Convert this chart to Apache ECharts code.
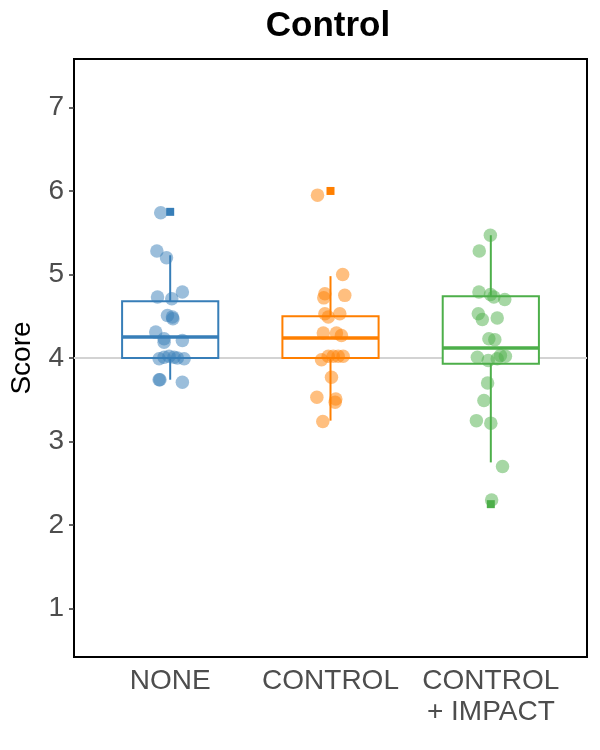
<!DOCTYPE html>
<html>
<head>
<meta charset="utf-8">
<script src="https://cdn.jsdelivr.net/npm/echarts@6/dist/echarts.min.js"></script>
<style>
html,body{margin:0;padding:0;background:#fff;}
#chart{width:600px;height:750px;}
</style>
</head>
<body>
<div id="chart"></div>
<script>
// ---- data ----
const categories = ['NONE', 'CONTROL', 'CONTROL\n+ IMPACT'];
const colors = ['#377EB8', '#FF7F00', '#4DAF4A'];
const yTicks = [1, 2, 3, 4, 5, 6, 7];
const refValue = 4;

// box stats: [lower whisker, Q1, median, Q3, upper whisker]
const boxNone = [3.74, 4.00, 4.25, 4.68, 5.23];
const boxControl = [3.25, 4.00, 4.24, 4.50, 4.98];
const boxImpact = [2.75, 3.93, 4.12, 4.74, 5.47];

const outliersNone = [5.75];
const outliersControl = [6.00];
const outliersImpact = [2.25];

const valuesNone = [5.74, 5.28, 5.20, 4.79, 4.73, 4.71, 4.51, 4.49, 4.47, 4.31, 4.23, 4.19, 4.21, 3.99, 4.01, 4.02, 4.01, 4.00, 3.99, 3.74, 3.74, 3.71];
const jitterNone = [-0.059, -0.083, -0.023, 0.076, -0.079, 0.010, -0.017, 0.014, 0.017, -0.090, -0.038, -0.038, 0.076, -0.069, -0.038, -0.007, 0.024, 0.045, 0.087, -0.069, -0.064, 0.076];

const valuesControl = [5.95, 5.00, 4.77, 4.72, 4.75, 4.53, 4.49, 4.53, 4.30, 4.30, 4.27, 3.98, 4.02, 4.02, 4.02, 4.02, 3.77, 3.53, 3.51, 3.47, 3.24];
const jitterControl = [-0.081, 0.076, -0.035, -0.042, 0.089, -0.035, -0.014, 0.058, -0.045, 0.037, 0.068, -0.056, -0.014, 0.017, 0.048, 0.079, 0.006, -0.085, 0.033, 0.029, -0.048];

const valuesImpact = [5.47, 5.28, 4.79, 4.76, 4.73, 4.70, 4.53, 4.46, 4.48, 4.23, 4.22, 4.01, 3.97, 3.99, 4.03, 4.02, 3.70, 3.49, 3.25, 3.22, 2.70, 2.30];
const jitterImpact = [-0.003, -0.072, -0.074, -0.002, 0.019, 0.087, -0.078, -0.053, 0.040, -0.012, 0.025, -0.084, -0.016, 0.040, 0.060, 0.091, -0.020, -0.043, -0.090, 0.000, 0.073, 0.005];

// ---- build ----
const boxes = [boxNone, boxControl, boxImpact];
const outliers = [outliersNone, outliersControl, outliersImpact];
const values = [valuesNone, valuesControl, valuesImpact];
const jitters = [jitterNone, jitterControl, jitterImpact];
const FONT = '"Liberation Sans", Arial, sans-serif';
const X_MIN = 0.4, X_MAX = 3.6;

const series = [];
// reference line
series.push({
  type: 'line', silent: true, symbol: 'none', z: 1,
  data: [[X_MIN, refValue], [X_MAX, refValue]],
  lineStyle: { color: '#d3d3d3', width: 2 }
});
// boxes
series.push({
  type: 'custom', z: 2, silent: true,
  data: boxes.map((b, i) => [i + 1].concat(b)),
  encode: { x: 0, y: [1, 2, 3, 4, 5] },
  renderItem: function (params, api) {
    const i = params.dataIndex;
    const x = api.value(0);
    const col = colors[i];
    const half = api.size([0.6, 0])[0] / 2;
    const pMin = api.coord([x, api.value(1)]);
    const pQ1 = api.coord([x, api.value(2)]);
    const pMed = api.coord([x, api.value(3)]);
    const pQ3 = api.coord([x, api.value(4)]);
    const pMax = api.coord([x, api.value(5)]);
    const cx = pQ1[0];
    return {
      type: 'group',
      children: [
        { type: 'line', shape: { x1: cx, y1: pMin[1], x2: cx, y2: pQ1[1] }, style: { stroke: col, lineWidth: 2 } },
        { type: 'line', shape: { x1: cx, y1: pQ3[1], x2: cx, y2: pMax[1] }, style: { stroke: col, lineWidth: 2 } },
        { type: 'rect', shape: { x: cx - half, y: pQ3[1], width: 2 * half, height: pQ1[1] - pQ3[1] }, style: { fill: '#fff', stroke: col, lineWidth: 2 } },
        { type: 'line', shape: { x1: cx - half, y1: pMed[1], x2: cx + half, y2: pMed[1] }, style: { stroke: col, lineWidth: 3.5 } }
      ]
    };
  }
});
// outliers
outliers.forEach((arr, i) => {
  series.push({
    type: 'scatter', z: 3, silent: true, symbol: 'rect', symbolSize: 8,
    itemStyle: { color: colors[i], opacity: 1 },
    data: arr.map(v => [i + 1, v])
  });
});
// jittered points
values.forEach((arr, i) => {
  series.push({
    type: 'scatter', z: 4, silent: true, symbol: 'circle', symbolSize: 13.5,
    itemStyle: { color: colors[i], opacity: 0.5 },
    data: arr.map((v, k) => [i + 1 + jitters[i][k], v])
  });
});

const chart = echarts.init(document.getElementById('chart'), null, { renderer: 'canvas' });
chart.setOption({
  animation: false,
  backgroundColor: '#fff',
  textStyle: { fontFamily: FONT },
  title: {
    text: 'Control', left: 328, top: 9, textAlign: 'center', padding: 0,
    textStyle: { fontFamily: FONT, fontWeight: 'bold', fontSize: 35, color: '#000' }
  },
  grid: {
    left: 71, right: 13, top: 59, bottom: 93,
    show: true, borderColor: '#000', borderWidth: 2, backgroundColor: 'transparent'
  },
  xAxis: {
    type: 'value', min: X_MIN, max: X_MAX,
    axisLine: { show: false }, splitLine: { show: false },
    axisTick: { show: false },
    axisLabel: {
      customValues: [1, 2, 3],
      formatter: v => categories[Math.round(v) - 1] || '',
      fontFamily: FONT, fontSize: 28, color: '#4d4d4d', lineHeight: 31, margin: 9
    }
  },
  yAxis: {
    type: 'value', min: 0.42, max: 7.58,
    name: 'Score', nameLocation: 'middle', nameRotate: 90, nameGap: 38,
    nameTextStyle: { fontFamily: FONT, fontSize: 28, color: '#000' },
    axisLine: { show: false }, splitLine: { show: false },
    axisTick: { show: true, customValues: yTicks, length: 5, lineStyle: { color: '#333', width: 1.5 } },
    axisLabel: {
      customValues: yTicks, fontFamily: FONT, fontSize: 28, color: '#4d4d4d', margin: 10
    }
  },
  series: series
});
</script>
</body>
</html>
